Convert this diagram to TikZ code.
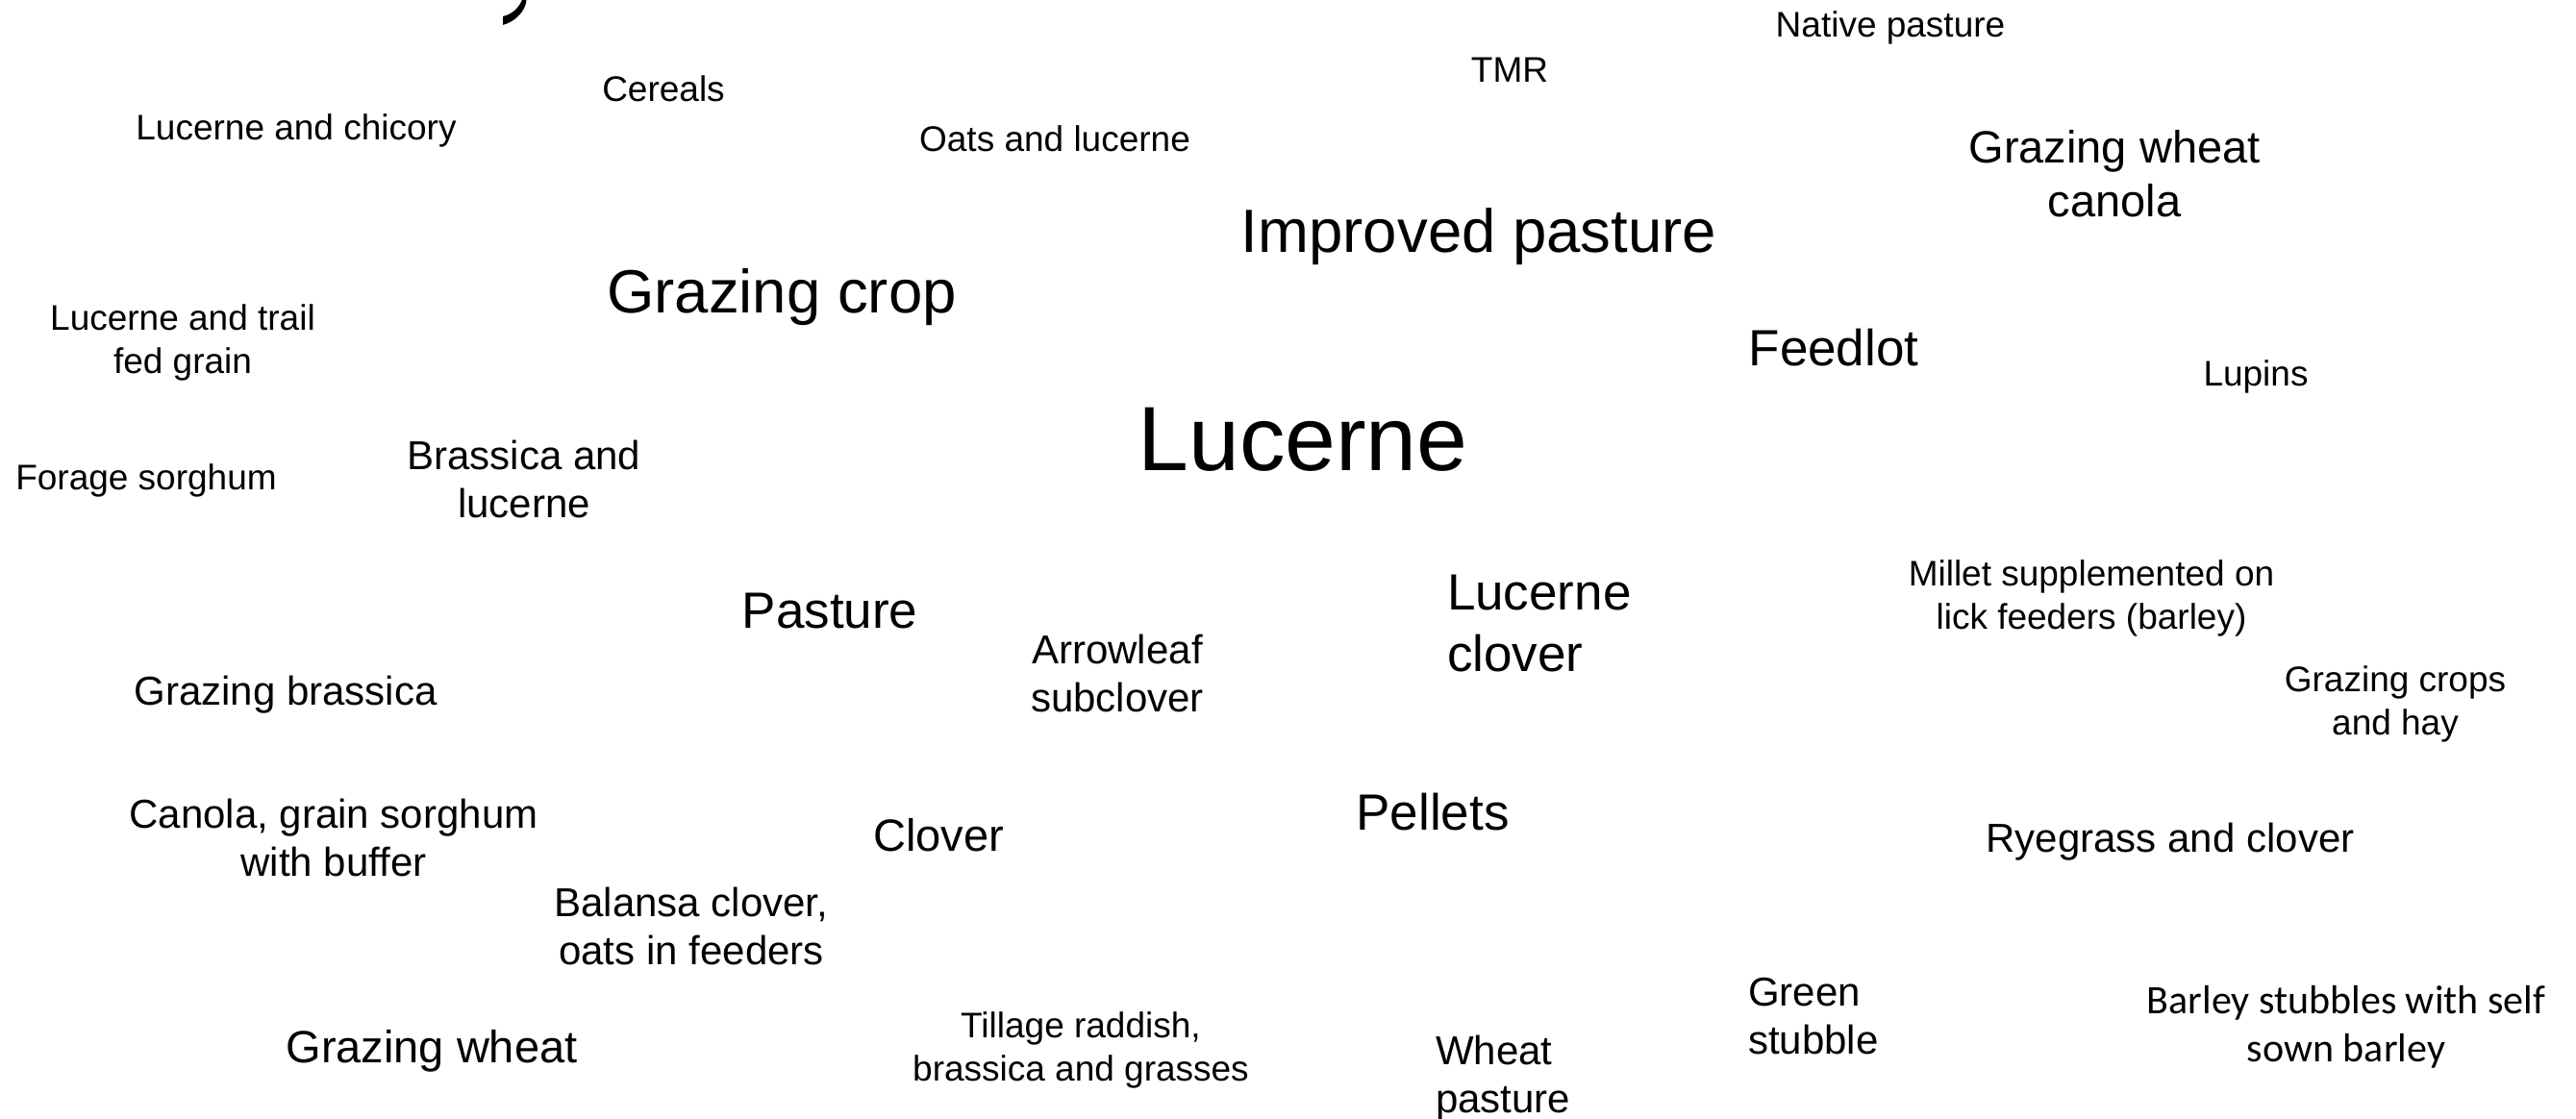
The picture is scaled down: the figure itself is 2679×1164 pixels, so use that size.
\documentclass[tikz,border=0pt]{standalone}
\usepackage{fontspec}
\setmainfont{Liberation Sans}
\newfontfamily\calibrifam{Carlito}
\begin{document}
\begin{tikzpicture}[x=1pt,y=-1pt,
  word/.style={inner sep=0pt, outer sep=0pt, anchor=base},
  multi/.style={inner sep=0pt, outer sep=0pt, anchor=north, align=center},
  multil/.style={inner sep=0pt, outer sep=0pt, anchor=north west, align=left},
  s37/.style={font=\fontsize{37}{44.4}\selectfont},
  s42/.style={font=\fontsize{42}{50.4}\selectfont},
  s47/.style={font=\fontsize{47}{56.4}\selectfont},
  s53/.style={font=\fontsize{53}{63.6}\selectfont},
  s64/.style={font=\fontsize{63.5}{76}\selectfont},
  s95/.style={font=\fontsize{95}{114}\selectfont},
  c42/.style={font=\calibrifam\fontsize{42}{50}\selectfont}]
\fill[white] (0,0) rectangle (2679,1164);
\useasboundingbox (0,0) rectangle (2679,1164);
% cut-off glyph fragment at the top edge
\fill[black] (543,0) -- (547.5,0) .. controls (546.5,11) and (537,22) .. (523,26) -- (523,17) .. controls (532,15) and (539,9) .. (543,0) -- cycle;

% single-line words
\node[word,s95] (lucerne) at (1355,489) {Lucerne};
\node[word,s64] (improved) at (1538,262) {Improved pasture};
\node[word,s64] (grazingcrop) at (813,325) {Grazing crop};
\node[word,s53] (feedlot) at (1907,380) {Feedlot};
\node[word,s53] (pasture) at (863,653) {Pasture};
\node[word,s47] (clover) at (976,885) {Clover};
\node[word,s53] (pellets) at (1490,863) {Pellets};
\node[word,s37] (native) at (1966,39) {Native pasture};
\node[word,s37] (tmr) at (1570,85) {TMR};
\node[word,s37] (cereals) at (690,105) {Cereals};
\node[word,s37] (lucchic) at (308,145) {Lucerne and chicory};
\node[word,s37] (oatsluc) at (1097,157) {Oats and lucerne};
\node[word,s37] (forage) at (152,509) {Forage sorghum};
\node[word,s37] (lupins) at (2346,401) {Lupins};
\node[word,s42] (grazbras) at (297,733) {Grazing brassica};
\node[word,s42] (ryegrass) at (2257,886) {Ryegrass and clover};
\node[word,s47] (grazwheat) at (449,1105) {Grazing wheat};

% multi-line words
\node[multi,s47] (gwcanola) at (2199,135) {Grazing wheat\\canola};
\node[multi,s37] (luctrail) at (190,317) {Lucerne and trail\\fed grain};
\node[multi,s42] (brasluc) at (545,458) {Brassica and\\lucerne};
\node[multil,s53] (lucclover) at (1505,598) {Lucerne\\clover};
\node[multi,s37] (millet) at (2175,583) {Millet supplemented on\\lick feeders (barley)};
\node[multi,s42] (arrowleaf) at (1162,660) {Arrowleaf\\subclover};
\node[multi,s37] (grazcrops) at (2491,693) {Grazing crops\\and hay};
\node[multi,s42] (canola) at (347,831) {Canola, grain sorghum\\with buffer};
\node[multi,s42] (balansa) at (719,923) {Balansa clover,\\oats in feeders};
\node[multi,s37] (tillage) at (1124,1053) {Tillage raddish,\\brassica and grasses};
\node[multil,s42] (wheatpast) at (1493,1077) {Wheat\\pasture};
\node[multil,s42] (green) at (1818,1017) {Green\\stubble};
\node[multi,c42] (barley) at (2440,1025) {Barley stubbles with self\\sown barley};
\end{tikzpicture}
\end{document}
